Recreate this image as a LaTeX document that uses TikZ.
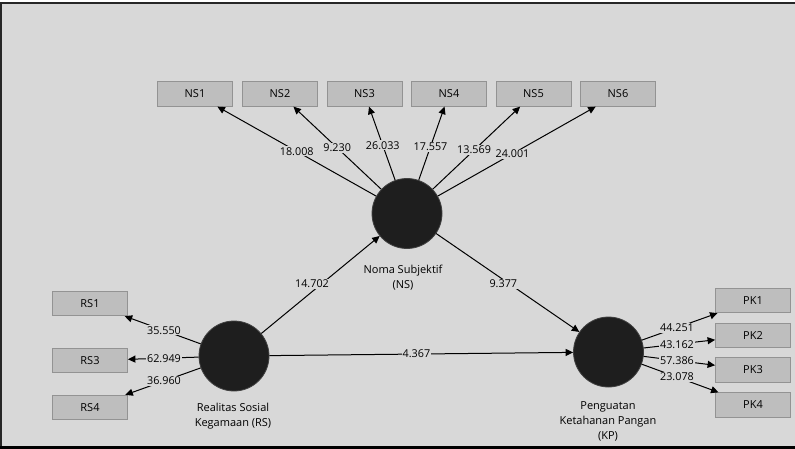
\documentclass[tikz,border=0pt]{standalone}
\usepackage{fontspec}
\setmainfont{Open Sans}
\usetikzlibrary{arrows.meta,calc}
\definecolor{canvas}{HTML}{D8D8D8}
\definecolor{boxfill}{HTML}{BEBEBE}
\definecolor{boxline}{HTML}{939393}
\definecolor{latentfill}{HTML}{1E1E1E}
\begin{document}
\begin{tikzpicture}[x=1pt,y=-1pt,
  indicator/.style={draw=boxline, fill=boxfill, line width=0.8pt,
    minimum width=75pt, minimum height=24.5pt, inner sep=0pt,
    font=\fontsize{11}{13}\selectfont},
  latent/.style={circle, fill=latentfill, draw=latentfill!85!white,
    line width=0.8pt, minimum size=70pt, inner sep=0pt},
  link/.style={draw=black, line width=1pt,
    -{Triangle[length=7.5pt,width=7pt]}},
  coef/.style={fill=canvas, inner sep=1pt,
    font=\fontsize{10.8}{12}\selectfont},
  caption/.style={align=center, inner sep=0pt,
    font=\fontsize{11}{15}\selectfont}]

% canvas and frame
\useasboundingbox (0,0) rectangle (795,449);
\fill[canvas] (0,2.5) rectangle (795,446);
\draw[line width=1.5pt, black!85] (795,3) -- (1,3) -- (1,446);
\draw[line width=3pt, black] (0,447) -- (795,447);

% latent variables
\node[latent] (NS) at (407,213.5) {};
\node[latent] (RS) at (234,356) {};
\node[latent] (KP) at (608.5,352) {};

\node[caption] (NScap) at (403,277.5) {Noma Subjektif\\(NS)};
\node[caption] (RScap) at (233,416) {Realitas Sosial\\Kegamaan (RS)};
\node[caption] (KPcap) at (608,421) {Penguatan\\Ketahanan Pangan\\(KP)};

% indicators of NS
\foreach \i/\x in {1/195,2/280,3/364.5,4/449,5/533.5,6/618}
  \node[indicator] (NS\i) at (\x,94) {NS\i};

% indicators of RS
\node[indicator] (RS1) at (90,303.5) {RS1};
\node[indicator] (RS3) at (90,360.5) {RS3};
\node[indicator] (RS4) at (90,407.5) {RS4};

% indicators of KP
\node[indicator] (PK1) at (753,300.5) {PK1};
\node[indicator] (PK2) at (753,335.5) {PK2};
\node[indicator] (PK3) at (753,370) {PK3};
\node[indicator] (PK4) at (753,405) {PK4};

% outer loadings
\foreach \i in {1,...,6} \draw[link] (NS) -- (NS\i);
\foreach \i in {1,3,4} \draw[link] (RS) -- (RS\i);
\foreach \i in {1,...,4} \draw[link] (KP) -- (PK\i);

% structural paths
\draw[link] (RS) -- (NS);
\draw[link] (RS) -- (KP);
\draw[link] (NS) -- (KP);

% coefficients
\node[coef] (cNS1) at ($(NS)!0.52!(NS1)$) {18.008};
\node[coef] (cNS2) at ($(NS)!0.55!(NS2)$) {9.230};
\node[coef] (cNS3) at ($(NS)!0.57!(NS3)$) {26.033};
\node[coef] (cNS4) at ($(NS)!0.56!(NS4)$) {17.557};
\node[coef] (cNS5) at ($(NS)!0.53!(NS5)$) {13.569};
\node[coef] (cNS6) at ($(NS)!0.50!(NS6)$) {24.001};

\node[coef] (cRS1) at ($(RS)!0.486!(RS1)$) {35.550};
\node[coef] (cRS3) at ($(RS)!0.486!(RS3)$) {62.949};
\node[coef] (cRS4) at ($(RS)!0.486!(RS4)$) {36.960};

\node[coef] (cPK1) at ($(KP)!0.474!(PK1)$) {44.251};
\node[coef] (cPK2) at ($(KP)!0.474!(PK2)$) {43.162};
\node[coef] (cPK3) at ($(KP)!0.474!(PK3)$) {57.386};
\node[coef] (cPK4) at ($(KP)!0.474!(PK4)$) {23.078};

\node[coef] (cRSNS) at ($(RS)!0.445!(NS) + (1,-9)$) {14.702};
\node[coef] (cRSKP) at ($(RS)!0.487!(KP)$) {4.367};
\node[coef] (cNSKP) at ($(NS)!0.478!(KP) + (0,4)$) {9.377};
\end{tikzpicture}
\end{document}
